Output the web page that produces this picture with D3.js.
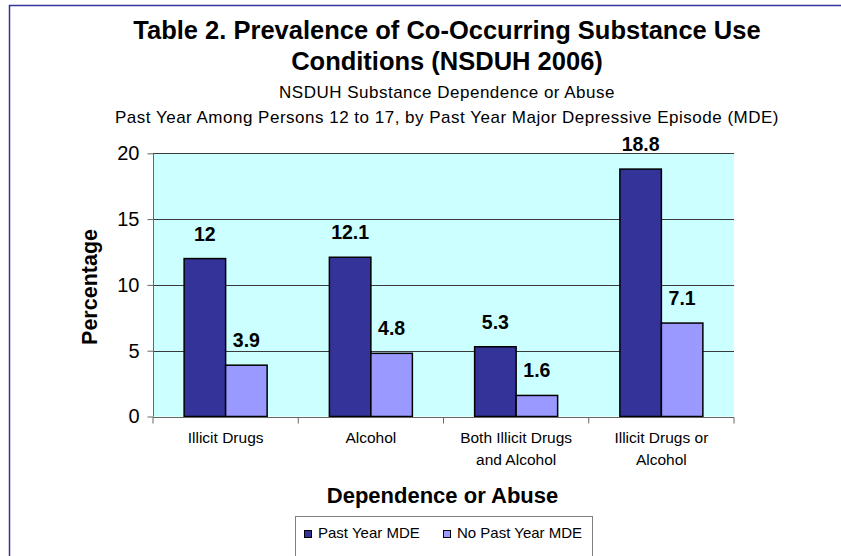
<!DOCTYPE html>
<html>
<head>
<meta charset="utf-8">
<script src="https://cdn.jsdelivr.net/npm/d3@7"></script>
<style>
  html, body { margin: 0; padding: 0; background: #ffffff; }
  svg { display: block; font-family: Arial, "Liberation Sans", Helvetica, sans-serif; }
</style>
</head>
<body>
<svg id="chart" width="841" height="556"></svg>
<script>
// Prevalence of co-occurring substance use conditions, NSDUH 2006
const categories = [
  "Illicit Drugs",
  "Alcohol",
  "Both Illicit Drugs\nand Alcohol",
  "Illicit Drugs or\nAlcohol"
];
const seriesNames = ["Past Year MDE", "No Past Year MDE"];
const pastYearMDE = [12, 12.1, 5.3, 18.8];
const noPastYearMDE = [3.9, 4.8, 1.6, 7.1];
const yTicks = [0, 5, 10, 15, 20];

const titleLines = ["Table 2. Prevalence of Co-Occurring Substance Use", "Conditions (NSDUH 2006)"];
const subtitleLines = [
  "NSDUH Substance Dependence or Abuse",
  "Past Year Among Persons 12 to 17, by Past Year Major Depressive Episode (MDE)"
];

const colors = ["#333399", "#9999ff"];

const svg = d3.select("#chart");
const W = 841, H = 556;
const plot = { left: 153, right: 734, top: 153.3, bottom: 416.5 };

// frame lines on the left and top
svg.append("path")
  .attr("d", `M9.5,${H} V5.5 H${W}`)
  .attr("fill", "none")
  .attr("stroke", "#333399")
  .attr("stroke-width", 1.5);

// titles
const cx = 447;
svg.append("g").selectAll("text").data(titleLines).join("text")
  .attr("x", cx).attr("y", (d, i) => 39 + i * 31)
  .attr("text-anchor", "middle")
  .attr("font-size", 25.5).attr("font-weight", "bold")
  .attr("fill", "#000")
  .text(d => d);

svg.append("g").selectAll("text").data(subtitleLines).join("text")
  .attr("x", cx).attr("y", (d, i) => 98 + i * 24.5)
  .attr("text-anchor", "middle")
  .attr("font-size", 17)
  .attr("letter-spacing", 0.5)
  .attr("fill", "#000")
  .text(d => d);

// scales
const x0 = d3.scaleBand().domain(categories).range([plot.left, plot.right]).paddingInner(0).paddingOuter(0);
const x1 = d3.scaleBand().domain(seriesNames).range([0, x0.bandwidth()]).paddingInner(0).paddingOuter(0.75);
const y = d3.scaleLinear().domain([0, 20]).range([plot.bottom, plot.top]);

// plot background
svg.append("rect")
  .attr("x", plot.left).attr("y", plot.top)
  .attr("width", plot.right - plot.left).attr("height", plot.bottom - plot.top)
  .attr("fill", "#ccffff");

// horizontal grid
svg.append("g").selectAll("line").data(yTicks.filter(t => t > 0)).join("line")
  .attr("x1", plot.left).attr("x2", plot.right)
  .attr("y1", d => Math.round(y(d)) + 0.5).attr("y2", d => Math.round(y(d)) + 0.5)
  .attr("stroke", "#3a3a3a").attr("stroke-width", 1);

// bars
const rows = categories.map((c, i) => ({ cat: c, values: [pastYearMDE[i], noPastYearMDE[i]] }));
const groups = svg.append("g").selectAll("g").data(rows).join("g")
  .attr("transform", d => `translate(${x0(d.cat)},0)`);

groups.selectAll("rect").data(d => d.values.map((v, j) => ({ s: seriesNames[j], v, j }))).join("rect")
  .attr("x", d => x1(d.s))
  .attr("y", d => y(d.v))
  .attr("width", x1.bandwidth())
  .attr("height", d => y(0) - y(d.v))
  .attr("fill", d => colors[d.j])
  .attr("stroke", "#000").attr("stroke-width", 1.5);

groups.selectAll("text").data(d => d.values.map((v, j) => ({ s: seriesNames[j], v, j }))).join("text")
  .attr("x", d => x1(d.s) + x1.bandwidth() / 2)
  .attr("y", d => y(d.v) - 18)
  .attr("text-anchor", "middle")
  .attr("font-size", 19.5).attr("font-weight", "bold")
  .attr("fill", "#000")
  .text(d => d.v);

// y axis
const yAxis = svg.append("g")
  .attr("transform", `translate(${plot.left + 0.5},0)`)
  .call(d3.axisLeft(y).tickValues(yTicks).tickSize(6).tickPadding(8).tickFormat(d3.format("d")));
yAxis.select(".domain").attr("stroke", "#666").attr("d", `M0,${plot.top}V${plot.bottom}`);
yAxis.selectAll(".tick line").attr("stroke", "#666");
yAxis.selectAll(".tick text")
  .attr("font-size", 20).attr("fill", "#000")
  .attr("font-family", "Arial, 'Liberation Sans', sans-serif");

// x axis
const xAxis = svg.append("g")
  .attr("transform", `translate(0,${Math.round(plot.bottom) + 0.5})`);
xAxis.append("line")
  .attr("x1", plot.left).attr("x2", plot.right)
  .attr("stroke", "#666");
xAxis.selectAll("line.tick").data(d3.range(categories.length + 1)).join("line")
  .attr("class", "tick")
  .attr("x1", i => plot.left + i * x0.step()).attr("x2", i => plot.left + i * x0.step())
  .attr("y1", 0).attr("y2", 6)
  .attr("stroke", "#666");

const catLabels = svg.append("g").selectAll("text").data(categories).join("text")
  .attr("x", d => x0(d) + x0.bandwidth() / 2)
  .attr("y", 443)
  .attr("text-anchor", "middle")
  .attr("font-size", 15.5)
  .attr("fill", "#000");
catLabels.selectAll("tspan").data(d => d.split("\n")).join("tspan")
  .attr("x", function () { return d3.select(this.parentNode).attr("x"); })
  .attr("dy", (d, i) => i === 0 ? 0 : 22)
  .text(d => d);

// axis titles
svg.append("text")
  .attr("transform", `translate(97,287) rotate(-90)`)
  .attr("text-anchor", "middle")
  .attr("font-size", 21.5).attr("font-weight", "bold")
  .text("Percentage");

svg.append("text")
  .attr("x", 442.5).attr("y", 503)
  .attr("text-anchor", "middle")
  .attr("font-size", 22).attr("font-weight", "bold")
  .text("Dependence or Abuse");

// legend
const legend = svg.append("g");
legend.append("rect")
  .attr("x", 295.5).attr("y", 516.5)
  .attr("width", 297).attr("height", 60)
  .attr("fill", "#fff").attr("stroke", "#808080");
const legendX = [304, 443];
const items = legend.selectAll("g").data(seriesNames).join("g")
  .attr("transform", (d, i) => `translate(${legendX[i]},0)`);
items.append("rect")
  .attr("x", 0.5).attr("y", 530.5).attr("width", 7).attr("height", 7)
  .attr("fill", (d, i) => colors[i]).attr("stroke", "#000");
items.append("text")
  .attr("x", 14).attr("y", 538)
  .attr("font-size", 15)
  .text(d => d);
</script>
</body>
</html>
